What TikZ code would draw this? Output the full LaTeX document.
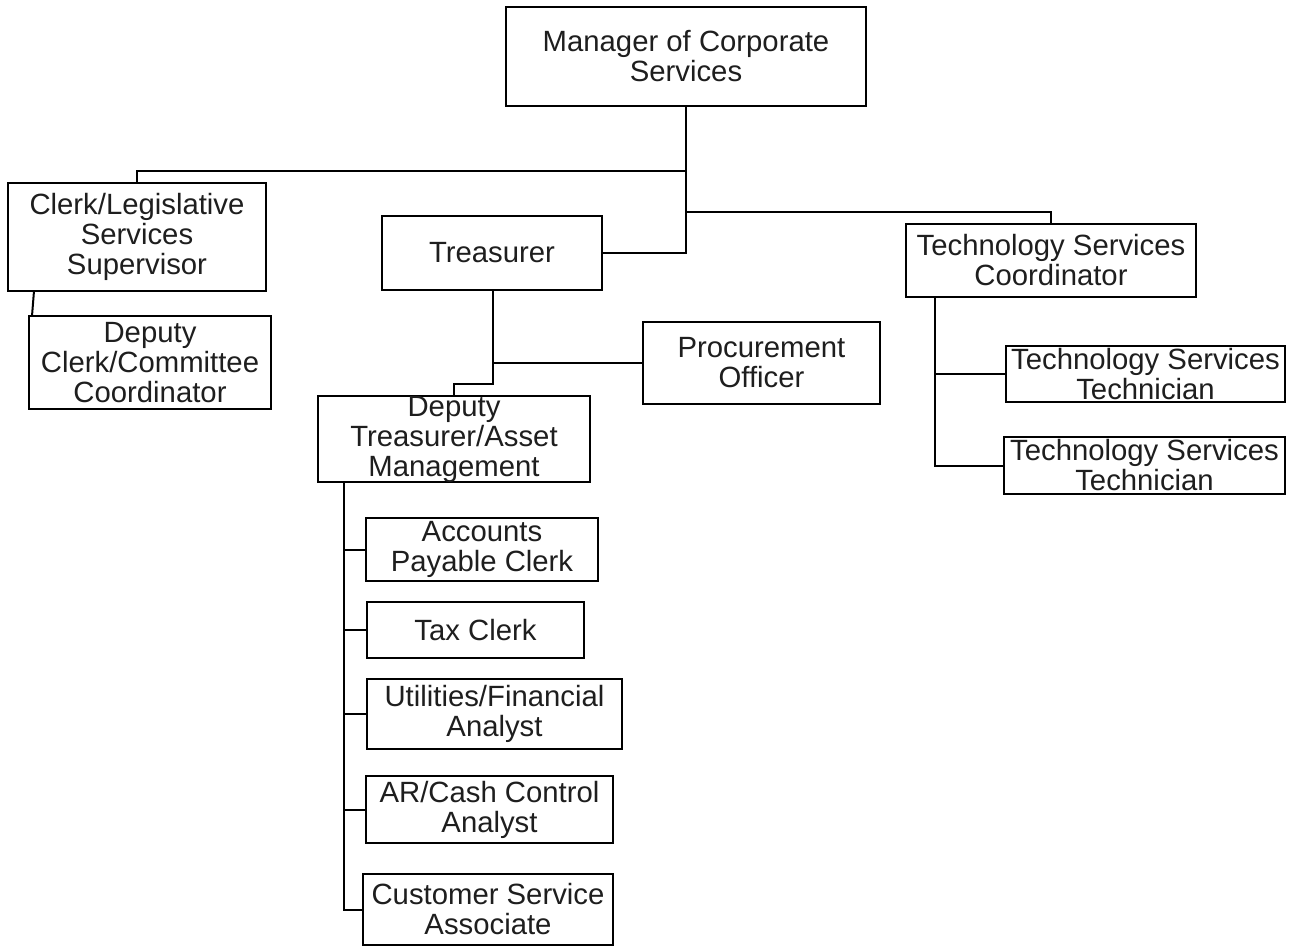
\documentclass[tikz,border=0pt]{standalone}
\usepackage{fontspec}
\setmainfont{Liberation Sans}
\usetikzlibrary{calc}
\definecolor{txt}{HTML}{1E1E1E}
\begin{document}
\begin{tikzpicture}[x=1pt,y=-1pt,line width=2pt,
  box/.style={draw=black,text=txt,inner sep=0pt,outer sep=0pt,align=center,
    font=\fontsize{29.3}{30}\selectfont},
  link/.style={draw,line width=2pt}]
\useasboundingbox (0,0) rectangle (1289,947);
% nodes
\node[box,minimum width=360pt,minimum height=99pt] (mgr) at (686,56.5) {Manager of Corporate\\Services};
\node[box,minimum width=258pt,minimum height=108pt] (clerk) at (137,237) {Clerk/Legislative\\Services\\Supervisor};
\node[box,minimum width=242pt,minimum height=93pt] (dclerk) at (150,362.5) {Deputy\\Clerk/Committee\\Coordinator};
\node[box,minimum width=220pt,minimum height=74pt] (tre) at (492,253) {Treasurer};
\node[box,minimum width=237pt,minimum height=82pt] (proc) at (761.5,363) {Procurement\\Officer};
\node[box,minimum width=272pt,minimum height=86pt] (dtre) at (454,439) {Deputy\\Treasurer/Asset\\Management};
\node[box,minimum width=290pt,minimum height=73pt] (tech) at (1051,260.5) {Technology Services\\Coordinator};
\node[box,minimum width=279pt,minimum height=56pt] (tt1) at (1145.5,374) {Technology Services\\Technician};
\node[box,minimum width=281pt,minimum height=57pt] (tt2) at (1144.5,465.5) {Technology Services\\Technician};
\node[box,minimum width=232pt,minimum height=63pt] (ap) at (482,549.5) {Accounts\\Payable Clerk};
\node[box,minimum width=217pt,minimum height=56pt] (tax) at (475.5,630) {Tax Clerk};
\node[box,minimum width=255pt,minimum height=70pt] (util) at (494.5,714) {Utilities/Financial\\Analyst};
\node[box,minimum width=247pt,minimum height=67pt] (ar) at (489.5,809.5) {AR/Cash Control\\Analyst};
\node[box,minimum width=250pt,minimum height=71pt] (cust) at (488,909.5) {Customer Service\\Associate};
% junction coordinates
\coordinate (jL) at (686,171);
\coordinate (jR) at (686,212);
\coordinate (jD) at (493,384);
\coordinate (dv) at ($(dtre.south west)+(26,0)$);
\coordinate (tv) at ($(tech.south west)+(29,0)$);
% connectors
\draw[link] (mgr.south) -- (mgr.south |- tre.east) -- (tre.east);
\draw[link] (mgr.south |- jL) -| (clerk.north);
\draw[link] (mgr.south |- jR) -| (tech.north);
\draw[link] ($(clerk.south west)+(26,0)$) -- ($(dclerk.north west)+(3,0)$);
\draw[link] (tre.south -| jD) |- (proc.west);
\draw[link] (proc.west -| jD) -- (jD) -| (dtre.north);
\draw[link] (dv) |- (cust.west);
\draw[link] (ap.west) -- (ap.west -| dv);
\draw[link] (tax.west) -- (tax.west -| dv);
\draw[link] (util.west) -- (util.west -| dv);
\draw[link] (ar.west) -- (ar.west -| dv);
\draw[link] (tv) |- (tt2.west);
\draw[link] (tt1.west) -- (tt1.west -| tv);
\end{tikzpicture}
\end{document}
